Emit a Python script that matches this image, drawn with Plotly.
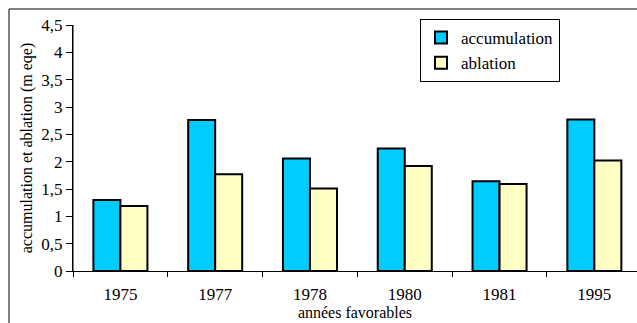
import plotly.graph_objects as go

years = ["1975", "1977", "1978", "1980", "1981", "1995"]
accumulation = [1.30, 2.76, 2.06, 2.24, 1.64, 2.77]
ablation = [1.19, 1.77, 1.51, 1.92, 1.59, 2.02]
y_ticks = [0, 0.5, 1, 1.5, 2, 2.5, 3, 3.5, 4, 4.5]
y_labels = ["0", "0,5", "1", "1,5", "2", "2,5", "3", "3,5", "4", "4,5"]

FONT = "Times New Roman, Liberation Serif, serif"

fig = go.Figure()
fig.add_trace(go.Bar(name="accumulation", x=years, y=accumulation,
                     marker=dict(color="#00CCFF", line=dict(color="black", width=2))))
fig.add_trace(go.Bar(name="ablation", x=years, y=ablation,
                     marker=dict(color="#FFFFC4", line=dict(color="black", width=2))))

L, R, T, B = 73, 0, 25, 52
W, H = 637, 323
pw, ph = W - L - R, H - T - B

fig.update_layout(
    width=W, height=H,
    margin=dict(l=L, r=R, t=T, b=B, pad=0, autoexpand=False),
    paper_bgcolor="white", plot_bgcolor="white",
    barmode="group", bargap=0.43, bargroupgap=0,
    font=dict(family=FONT, size=17, color="black"),
    legend=dict(x=(420 - L) / pw, y=1 + (T - 19) / ph, xanchor="left", yanchor="top",
                bordercolor="black", borderwidth=1, bgcolor="white",
                font=dict(family=FONT, size=17), itemwidth=30,
                tracegroupgap=2),
    xaxis=dict(type="category", range=[-0.5, 5.45], showline=True, linecolor="black",
               linewidth=1, ticks="outside", tickson="boundaries", ticklen=5,
               tickcolor="black", showgrid=False, tickfont=dict(family=FONT, size=17),
               automargin=False, ticklabelstandoff=8,
               title=dict(text="années favorables", standoff=0,
                          font=dict(family=FONT, size=16))),
    yaxis=dict(range=[0, 4.5], tickvals=y_ticks, ticktext=y_labels, showline=True,
               linecolor="black", linewidth=1, ticks="outside", ticklen=5,
               tickcolor="black", showgrid=False, zeroline=False,
               tickfont=dict(family=FONT, size=17), automargin=False,
               title=dict(text="accumulation et ablation (m eqe)", standoff=4,
                          font=dict(family=FONT, size=16))),
    showlegend=True,
)

# outer chart frame
fig.add_shape(type="rect", xref="paper", yref="paper",
              x0=(9 - L) / pw, x1=1.1, y0=-0.3, y1=1 + (T - 9) / ph,
              line=dict(color="black", width=1), fillcolor="rgba(0,0,0,0)", layer="below")
# value axis line (backup so it is always visible)
fig.add_shape(type="line", xref="paper", yref="paper", x0=0, x1=0, y0=0, y1=1,
              line=dict(color="black", width=1), layer="above")

post = (
    "document.body.style.margin='0';document.body.style.padding='0';"
    "try{var gd=document.getElementsByClassName('plotly-graph-div')[0];"
    "Plotly.relayout(gd,{'yaxis.ticklen':6});}catch(e){}"
)
fig.write_html("out.html", config={"displayModeBar": False}, post_script=post)
